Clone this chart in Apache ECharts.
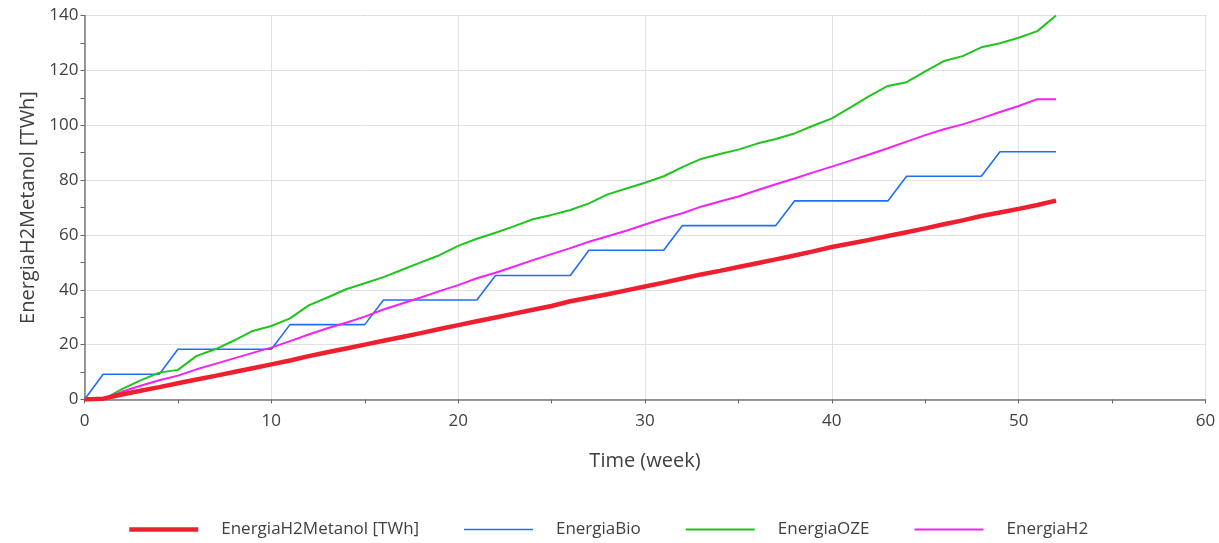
<!DOCTYPE html>
<html>
<head>
<meta charset="utf-8">
<script src="https://cdn.jsdelivr.net/npm/echarts@6/dist/echarts.min.js"></script>
<style>
html,body{margin:0;padding:0;background:#fff;}
#chart{width:1219px;height:543px;}
</style>
</head>
<body>
<div id="chart"></div>
<script>
// Weekly time axis (week 0..52)
const weeks = Array.from({length: 53}, (_, i) => i);

// Cumulative energy, TWh
const energiaH2Metanol = [
  0, 0.3, 1.8, 3.2, 4.5, 5.9, 7.3, 8.6, 10.0, 11.4,
  12.8, 14.2, 15.8, 17.2, 18.6, 20.0, 21.4, 22.8, 24.2, 25.7,
  27.1, 28.5, 29.9, 31.3, 32.7, 34.1, 35.8, 37.1, 38.4, 39.8,
  41.2, 42.6, 44.1, 45.6, 46.9, 48.3, 49.7, 51.1, 52.5, 54.0,
  55.6, 56.9, 58.2, 59.6, 61.0, 62.4, 63.9, 65.3, 66.9, 68.2,
  69.5, 70.9, 72.5
];
const energiaBio = [
  0, 9.2, 9.2, 9.2, 9.2, 18.3, 18.3, 18.3, 18.3, 18.3,
  18.3, 27.3, 27.3, 27.3, 27.3, 27.3, 36.3, 36.3, 36.3, 36.3,
  36.3, 36.3, 45.2, 45.2, 45.2, 45.2, 45.2, 54.4, 54.4, 54.4,
  54.4, 54.4, 63.4, 63.4, 63.4, 63.4, 63.4, 63.4, 72.4, 72.4,
  72.4, 72.4, 72.4, 72.4, 81.4, 81.4, 81.4, 81.4, 81.4, 90.3,
  90.3, 90.3, 90.3
];
const energiaOZE = [
  0, 0, 3.8, 7.0, 9.8, 10.8, 15.9, 18.3, 21.5, 25.0,
  26.8, 29.6, 34.3, 37.2, 40.2, 42.4, 44.6, 47.3, 50.0, 52.6,
  56.0, 58.6, 60.8, 63.2, 65.7, 67.3, 69.1, 71.5, 74.8, 76.9,
  79.0, 81.4, 84.7, 87.7, 89.5, 91.1, 93.3, 95.0, 97.0, 99.8,
  102.5, 106.5, 110.6, 114.3, 115.7, 119.6, 123.4, 125.2, 128.4, 129.9,
  131.9, 134.3, 140.0
];
const energiaH2 = [
  0, 0.3, 2.8, 5.0, 7.0, 8.7, 11.0, 13.0, 15.0, 17.0,
  18.9, 21.3, 23.7, 26.0, 28.0, 30.2, 32.8, 35.0, 37.2, 39.5,
  41.7, 44.2, 46.2, 48.5, 50.8, 53.0, 55.2, 57.5, 59.5, 61.5,
  63.8, 66.0, 67.9, 70.3, 72.2, 74.0, 76.3, 78.5, 80.6, 82.8,
  84.9, 87.1, 89.3, 91.6, 94.0, 96.4, 98.5, 100.3, 102.5, 104.8,
  107.0, 109.5, 109.5
];

const seriesNames = ['EnergiaH2Metanol [TWh]', 'EnergiaBio', 'EnergiaOZE', 'EnergiaH2'];
const seriesColors = ['#ee2030', '#1f6ff5', '#1fc41f', '#f522f5'];
const seriesWidths = [4.5, 1.6, 2, 2];
const seriesValues = [energiaH2Metanol, energiaBio, energiaOZE, energiaH2];

const FONT = 'Open Sans';
const TEXT = '#404040';

const chart = echarts.init(document.getElementById('chart'), null, {renderer: 'canvas'});

const series = seriesValues.map((vals, k) => ({
  name: seriesNames[k],
  type: 'line',
  data: weeks.map((w, i) => [w, vals[i]]),
  symbol: 'none',
  smooth: false,
  z: k === 0 ? 5 : 3,
  lineStyle: {color: seriesColors[k], width: seriesWidths[k]},
  itemStyle: {color: seriesColors[k]},
  emphasis: {disabled: true}
}));

chart.setOption({
  animation: false,
  backgroundColor: '#fff',
  grid: {left: 84.5, right: 13.5, top: 15.5, bottom: 143.5, show: true,
         borderColor: '#555', borderWidth: 1, backgroundColor: 'transparent'},
  xAxis: {
    type: 'value', min: 0, max: 60, interval: 10,
    name: 'Time (week)', nameLocation: 'middle', nameGap: 52,
    nameTextStyle: {fontFamily: FONT, fontSize: 20, color: TEXT},
    axisLine: {show: true, lineStyle: {color: '#777', width: 1.5}},
    axisTick: {show: true, length: 4, lineStyle: {color: '#666'}},
    minorTick: {show: true, splitNumber: 2, length: 4, lineStyle: {color: '#666'}},
    axisLabel: {fontFamily: FONT, fontSize: 17, color: TEXT, margin: 13},
    splitLine: {show: true, lineStyle: {color: '#e2e2e2', width: 1}}
  },
  yAxis: {
    type: 'value', min: 0, max: 140, interval: 20,
    name: 'EnergiaH2Metanol [TWh]', nameLocation: 'middle', nameGap: 46, nameRotate: 90,
    nameTextStyle: {fontFamily: FONT, fontSize: 20, color: TEXT},
    axisLine: {show: true, lineStyle: {color: '#777', width: 1.5}},
    axisTick: {show: true, length: 4, lineStyle: {color: '#666'}},
    minorTick: {show: true, splitNumber: 2, length: 4, lineStyle: {color: '#666'}},
    axisLabel: {fontFamily: FONT, fontSize: 17, color: TEXT, margin: 6},
    splitLine: {show: true, lineStyle: {color: '#e2e2e2', width: 1}}
  },
  legend: {
    bottom: 0, left: 122,
    itemWidth: 69, itemHeight: 1, itemGap: 44,
    data: seriesNames,
    lineStyle: {width: 'inherit'},
    textStyle: {fontFamily: FONT, fontSize: 17, color: TEXT, padding: [0, 0, 0, 18]}
  },
  series: series
});
</script>
</body>
</html>
